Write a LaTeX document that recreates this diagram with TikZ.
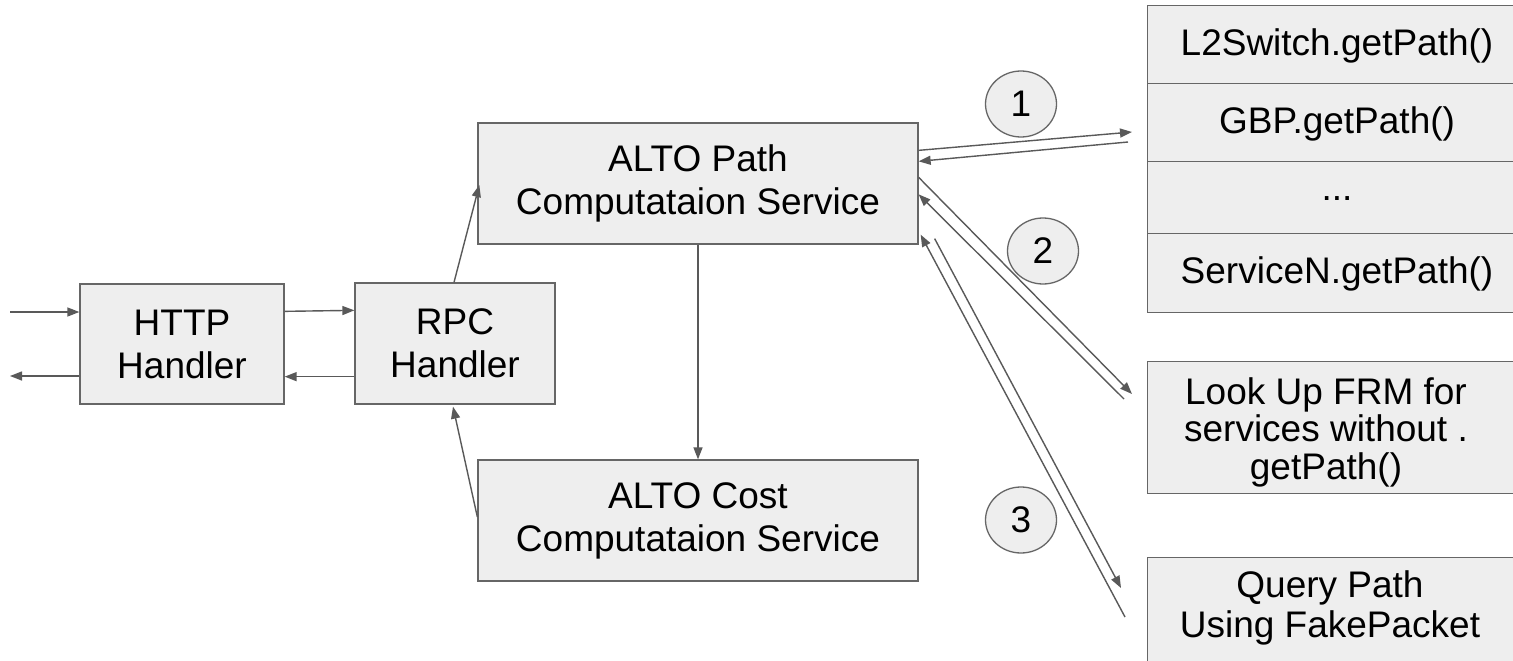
\documentclass[tikz,border=0pt]{standalone}
\usepackage{fontspec}
\setmainfont{Liberation Sans}
\usetikzlibrary{arrows.meta,calc,shapes.geometric}
\definecolor{boxfill}{HTML}{EEEEEE}
\definecolor{boxline}{HTML}{666666}
\definecolor{wire}{HTML}{595959}

\begin{document}
\begin{tikzpicture}[x=1pt,y=-1pt,
  box/.style={draw=boxline, fill=boxfill, line width=1.3pt, inner sep=0pt,
    align=center, font=\fontsize{37}{43}\selectfont},
  edgebox/.style={draw=boxline, fill=boxfill, line width=1.3pt, inner sep=0pt,
    minimum width=440, anchor=north west},
  label text/.style={align=center, inner sep=0pt, font=\fontsize{37}{43}\selectfont},
  link/.style={draw=wire, line width=1.4pt, -{Triangle[length=12pt,width=9pt]}},
  badge/.style={ellipse, draw=boxline, fill=boxfill, line width=1.3pt,
    minimum width=71pt, minimum height=66pt, inner sep=0pt,
    font=\fontsize{37}{43}\selectfont}]

\path[use as bounding box, clip] (0,0) rectangle (1513,661);
\fill[white] (0,0) rectangle (1513,661);

% request handling chain
\node[box, minimum width=204, minimum height=120] (http) at (182,344) {HTTP\\Handler};
\node[box, minimum width=200, minimum height=121] (rpc) at (455,343.5) {RPC\\Handler};
\node[box, minimum width=440, minimum height=121] (path) at (698,183.5) {ALTO Path\\Computataion Service};
\node[box, minimum width=440, minimum height=121] (cost) at (698,520.5) {ALTO Cost\\Computataion Service};

% path providers (boxes run off the right edge)
\node[edgebox, minimum height=78] (l2box) at (1147,5) {};
\node[edgebox, minimum height=78] (gbpbox) at (1147,83) {};
\node[edgebox, minimum height=72] (dotsbox) at (1147,161) {};
\node[edgebox, minimum height=79] (svcnbox) at (1147,233) {};
\node[edgebox, minimum height=132] (frmbox) at (1147,361) {};
\node[edgebox, minimum height=140] (querybox) at (1147,557) {};

\node[label text] (l2) at (1337,46) {L2Switch.getPath()};
\node[label text] (gbp) at (1337,124) {GBP.getPath()};
\node[label text] (dots) at (1337,199) {...};
\node[label text] (svcn) at (1337,274) {ServiceN.getPath()};
\node[label text, font=\fontsize{37}{37.5}\selectfont] (frm) at (1326,432)
  {Look Up FRM for\\services without .\\getPath()};
\node[label text, font=\fontsize{37}{40}\selectfont] (query) at (1330,608)
  {Query Path\\Using FakePacket};

% step numbers
\node[badge] (c1) at (1021,104) {1};
\node[badge] (c2) at (1043,251) {2};
\node[badge] (c3) at (1021,520) {3};

% free ends
\coordinate (in) at (10,312);
\coordinate (out) at (10,376);
\coordinate (t1) at (1132,132);
\coordinate (f1) at (1128,142);
\coordinate (t2) at (1132,394);
\coordinate (f2) at (1124,399);
\coordinate (t3) at (1121,588);
\coordinate (f3) at (1125,617);

% client side
\draw[link] (in) -- (in -| http.west);
\draw[link] (out -| http.west) -- (out);
\draw[link] ($(http.north east)+(0,28)$) -- ($(rpc.north west)+(0,28)$);
\draw[link] ($(rpc.south west)+(0,-28)$) -- ($(http.south east)+(0,-28)$);

% service calls
\draw[link] ($(rpc.north)+(-1,0)$) -- ($(path.west)+(2,1.5)$);
\draw[link] (path.south) -- (cost.north);
\draw[link] ($(cost.west)+(0,-3.5)$) -- ($(rpc.south)+(-2,2)$);

% step 1
\draw[link] ($(path.north east)+(0,28)$) -- (t1);
\draw[link] (f1) -- ($(path.north east)+(0,39)$);
% step 2
\draw[link] ($(path.north east)+(0,55)$) -- (t2);
\draw[link] (f2) -- ($(path.north east)+(0,72)$);
% step 3
\draw[link] ($(path.south east)+(16,-6)$) -- (t3);
\draw[link] (f3) -- ($(path.south east)+(2,-10)$);
\end{tikzpicture}
\end{document}
